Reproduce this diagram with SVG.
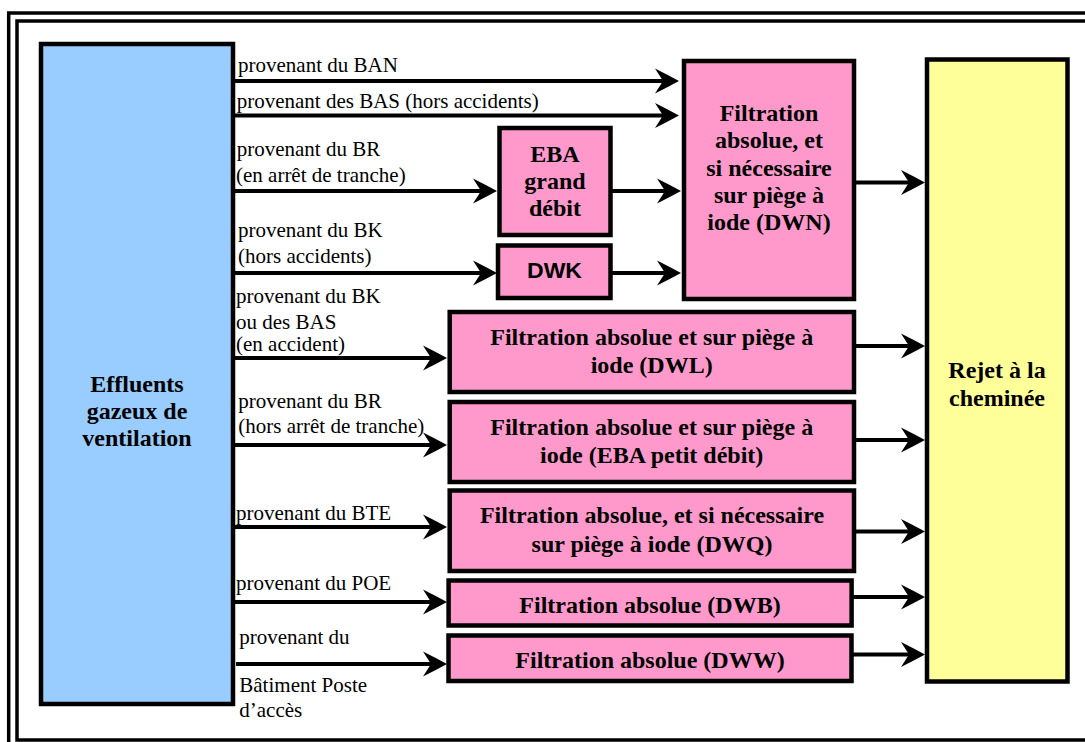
<svg xmlns="http://www.w3.org/2000/svg" width="1085" height="742" viewBox="0 0 1085 742">
<style>
.box{stroke:#000;stroke-width:4.5}
.blue{fill:#99CCFF}
.pink{fill:#FF99CC}
.yellow{fill:#FFFF99}
.b{font-family:'Liberation Serif','Times New Roman',serif;font-weight:bold;font-size:24px;fill:#000;text-anchor:middle}
.s{font-family:'Liberation Sans',Arial,sans-serif;font-weight:bold;font-size:21.5px;fill:#000;text-anchor:middle}
.l{font-family:'Liberation Serif','Times New Roman',serif;font-size:21px;fill:#000}
.c{stroke:#000;stroke-width:4.2;fill:none;marker-end:url(#ah)}
</style>
<defs>
<marker id="ah" markerUnits="userSpaceOnUse" markerWidth="26" markerHeight="26" refX="14" refY="12.5" orient="auto" overflow="visible">
<path d="M0,0 Q12,6 24,12.5 Q12,19 0,25 L8,12.5 Z" fill="#000"/>
</marker>
</defs>
<rect width="1085" height="742" fill="#fff"/>
<g id="frame" fill="none" stroke="#000">
<rect x="8.7" y="13" width="1100" height="760" stroke-width="3.5"/>
<rect x="17" y="21" width="1100" height="719" stroke-width="3.5"/>
</g>
<g id="connectors">
<line class="c" x1="233" y1="81" x2="669" y2="81"/>
<line class="c" x1="233" y1="115.5" x2="669" y2="115.5"/>
<line class="c" x1="233" y1="191" x2="487" y2="191"/>
<line class="c" x1="233" y1="273" x2="487" y2="273"/>
<line class="c" x1="233" y1="358" x2="437" y2="358"/>
<line class="c" x1="233" y1="445" x2="437" y2="445"/>
<line class="c" x1="233" y1="527" x2="437" y2="527"/>
<line class="c" x1="233" y1="602" x2="437" y2="602"/>
<line class="c" x1="236" y1="664" x2="437" y2="664"/>
<line class="c" x1="612" y1="191" x2="671" y2="191"/>
<line class="c" x1="612" y1="273" x2="671" y2="273"/>
<line class="c" x1="856" y1="182.5" x2="915" y2="182.5"/>
<line class="c" x1="856" y1="346" x2="915" y2="346"/>
<line class="c" x1="856" y1="440" x2="915" y2="440"/>
<line class="c" x1="856" y1="531.5" x2="915" y2="531.5"/>
<line class="c" x1="853" y1="597" x2="915" y2="597"/>
<line class="c" x1="853" y1="654.5" x2="915" y2="654.5"/>
</g>
<g id="labels">
<text class="l" x="238" y="71.7">provenant du BAN</text>
<text class="l" x="236.7" y="108.3">provenant des BAS (hors accidents)</text>
<text class="l" x="236.7" y="156">provenant du BR</text>
<text class="l" x="236" y="181.7">(en arrêt de tranche)</text>
<text class="l" x="238" y="236.7">provenant du BK</text>
<text class="l" x="238" y="262.7">(hors accidents)</text>
<text class="l" x="236" y="303.3">provenant du BK</text>
<text class="l" x="236" y="329">ou des BAS</text>
<text class="l" x="236" y="351.3">(en accident)</text>
<text class="l" x="238.3" y="408.3">provenant du BR</text>
<text class="l" x="238.3" y="433.3">(hors arrêt de tranche)</text>
<text class="l" x="236" y="520">provenant du BTE</text>
<text class="l" x="236" y="590">provenant du POE</text>
<text class="l" x="239.3" y="644">provenant du</text>
<text class="l" x="239.3" y="692.3">Bâtiment Poste</text>
<text class="l" x="239.3" y="716.7">d’accès</text>
</g>
<g id="effluents">
<rect class="box blue" x="41" y="44" width="192" height="660"/>
<text class="b" x="137" y="392">Effluents</text>
<text class="b" x="137" y="419">gazeux de</text>
<text class="b" x="137" y="446">ventilation</text>
</g>
<g id="dwn">
<rect class="box pink" x="684" y="61" width="170" height="238"/>
<text class="b" x="769" y="121">Filtration</text>
<text class="b" x="769" y="148.3">absolue, et</text>
<text class="b" x="769" y="175.6">si nécessaire</text>
<text class="b" x="769" y="202.9">sur piège à</text>
<text class="b" x="769" y="230.2">iode (DWN)</text>
</g>
<g id="eba-grand">
<rect class="box pink" x="499.5" y="128" width="111" height="107"/>
<text class="b" x="555" y="162">EBA</text>
<text class="b" x="555" y="189">grand</text>
<text class="b" x="555" y="216">débit</text>
</g>
<g id="dwk">
<rect class="box pink" x="498" y="245.5" width="112.5" height="52.5"/>
<text class="s" x="554.5" y="278" textLength="55" lengthAdjust="spacingAndGlyphs">DWK</text>
</g>
<g id="dwl">
<rect class="box pink" x="449.7" y="312" width="404.3" height="80"/>
<text class="b" x="651.7" y="345">Filtration absolue et sur piège à</text>
<text class="b" x="651.7" y="373.3">iode (DWL)</text>
</g>
<g id="eba-petit">
<rect class="box pink" x="449.7" y="402" width="404.3" height="80"/>
<text class="b" x="651.7" y="435">Filtration absolue et sur piège à</text>
<text class="b" x="651.7" y="463.3">iode (EBA petit débit)</text>
</g>
<g id="dwq">
<rect class="box pink" x="449.7" y="490.5" width="404.3" height="80.5"/>
<text class="b" x="652" y="523.3">Filtration absolue, et si nécessaire</text>
<text class="b" x="652" y="552.3">sur piège à iode (DWQ)</text>
</g>
<g id="dwb">
<rect class="box pink" x="448.6" y="580.5" width="403" height="45"/>
<text class="b" x="650" y="613.3">Filtration absolue (DWB)</text>
</g>
<g id="dww">
<rect class="box pink" x="448.5" y="635.5" width="403" height="45.5"/>
<text class="b" x="650" y="668.3">Filtration absolue (DWW)</text>
</g>
<g id="rejet">
<rect class="box yellow" x="927" y="59.5" width="140.5" height="622"/>
<text class="b" x="997" y="378.3">Rejet à la</text>
<text class="b" x="997" y="406">cheminée</text>
</g>
</svg>
